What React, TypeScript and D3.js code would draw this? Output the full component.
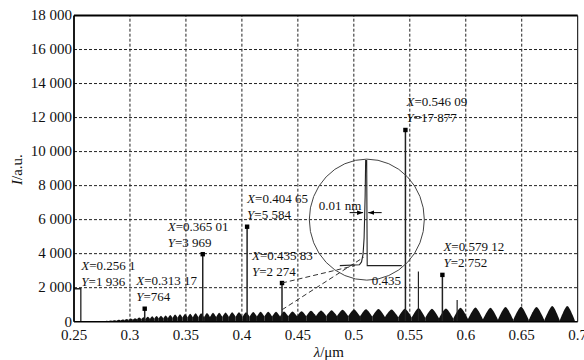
import { useRef, useEffect } from "react";
import * as d3 from "d3";

const xTicks = [0.25, 0.3, 0.35, 0.4, 0.45, 0.5, 0.55, 0.6, 0.65, 0.7];
const yTicks = [0, 2000, 4000, 6000, 8000, 10000, 12000, 14000, 16000, 18000];

// spectrum edge at the short-wavelength end
const edgeLambda = [0.25, 0.2561, 0.2561];
const edgeValue = [1936, 1936, 0];
const edgeLabelX = "0.256 1";
const edgeLabelY = "1 936";

// marked peaks (drawn height, label text)
const peakLambda = [0.31317, 0.36501, 0.40465, 0.43583, 0.54609, 0.57912];
const peakValue = [764, 3969, 5584, 2274, 11270, 2752];
const peakLabelX = ["0.313 17", "0.365 01", "0.404 65", "0.435 83", "0.546 09", "0.579 12"];
const peakLabelY = ["764", "3 969", "5 584", "2 274", "17 877", "2 752"];

// unlabelled lines
const lineLambda = [0.5577, 0.5923];
const lineValue = [2950, 1270];

// interference fringes on the continuum
const fringeCenter = [
  0.279, 0.2826, 0.2862, 0.2898, 0.2934, 0.2971, 0.3007, 0.3045, 0.3082, 0.3121,
  0.3159, 0.3198, 0.3237, 0.3277, 0.3318, 0.336, 0.3403, 0.3447, 0.3492, 0.3538,
  0.3586, 0.3636, 0.3688, 0.3742, 0.3797, 0.3854, 0.3913, 0.3974, 0.4037, 0.4101,
  0.4167, 0.4235, 0.4305, 0.4376, 0.4452, 0.4533, 0.4617, 0.4707, 0.4801, 0.4899,
  0.5002, 0.5109, 0.522, 0.5337, 0.5457, 0.5578, 0.5698, 0.5823, 0.5953, 0.6087,
  0.6221, 0.6355, 0.6494, 0.6632, 0.6773, 0.6907,
];
const fringeTop = [
  50, 70, 90, 110, 130, 160, 190, 210, 240, 260,
  290, 320, 330, 350, 370, 400, 420, 440, 450, 470,
  490, 500, 510, 520, 530, 540, 550, 560, 560, 570,
  580, 580, 590, 600, 600, 620, 640, 660, 680, 700,
  710, 730, 750, 720, 760, 800, 760, 780, 820, 840,
  820, 860, 880, 870, 930, 920,
];
const fringeLow = [
  10, 30, 50, 60, 80, 100, 110, 120, 140, 150,
  160, 170, 180, 190, 200, 210, 220, 230, 240, 250,
  250, 260, 260, 270, 270, 280, 280, 290, 290, 300,
  300, 300, 310, 310, 320, 320, 320, 330, 330, 330,
  320, 310, 300, 280, 260, 240, 220, 200, 180, 160,
  140, 120, 110, 100, 90, 80,
];

// magnified view of the 0.435 83 line (offset in nm, intensity)
const insetNm = [-0.05, -0.012, -0.008, -0.005, -0.003, -0.001, 0, 0.002, 0.003, 0.07];
const insetValue = [0, 20, 80, 250, 600, 1500, 2274, 2274, 0, 0];
const insetCenter = { lambda: 0.5116, value: 6000 };

const FONT = "'Liberation Serif', 'Times New Roman', serif";

export default function App() {
  const svgRef = useRef<SVGSVGElement>(null);

  useEffect(() => {
    if (!svgRef.current) return;
    const width = 584;
    const height = 360;
    const margin = { top: 15.5, right: 6.3, bottom: 38.3, left: 74 };

    const svg = d3.select(svgRef.current);
    svg.selectAll("*").remove();
    svg.attr("width", width).attr("height", height).attr("viewBox", `0 0 ${width} ${height}`);

    const x = d3.scaleLinear().domain([0.25, 0.7]).range([margin.left, width - margin.right]);
    const y = d3.scaleLinear().domain([0, 18000]).range([height - margin.bottom, margin.top]);
    const [x0, x1] = x.range();
    const [yb, yt] = y.range();

    svg.append("rect").attr("width", width).attr("height", height).attr("fill", "#fff");

    // grid
    const grid = svg.append("g").attr("stroke", "#222").attr("stroke-width", 1).attr("stroke-dasharray", "3,2");
    grid.selectAll("line.v")
      .data(xTicks.slice(1, -1))
      .join("line")
      .attr("class", "v")
      .attr("x1", (d) => x(d)).attr("x2", (d) => x(d))
      .attr("y1", yb).attr("y2", yt);
    grid.selectAll("line.h")
      .data(yTicks.slice(1, -1))
      .join("line")
      .attr("class", "h")
      .attr("x1", x0).attr("x2", x1)
      .attr("y1", (d) => y(d)).attr("y2", (d) => y(d));

    // fringes
    const n = fringeCenter.length;
    const area = d3
      .area<[number, number]>()
      .x((d) => x(d[0]))
      .y0(y(0))
      .y1((d) => y(d[1]))
      .curve(d3.curveCardinal.tension(0.2));
    const humps = fringeCenter.map((c, i) => {
      const prev = i > 0 ? fringeCenter[i - 1] : c - (fringeCenter[1] - c);
      const next = i < n - 1 ? fringeCenter[i + 1] : c + (c - fringeCenter[i - 1]);
      const lowR = i < n - 1 ? fringeLow[i + 1] : fringeLow[i];
      return [
        [(prev + c) / 2, fringeLow[i]],
        [c, fringeTop[i]],
        [(c + next) / 2, lowR],
      ] as [number, number][];
    });
    svg.append("g")
      .selectAll("path")
      .data(humps)
      .join("path")
      .attr("d", (d) => area(d))
      .attr("fill", "#111");

    // edge
    const edgeLine = d3
      .line<number>()
      .x((_, i) => x(edgeLambda[i]))
      .y((d) => y(d));
    svg.append("path")
      .attr("d", edgeLine(edgeValue))
      .attr("fill", "none")
      .attr("stroke", "#222")
      .attr("stroke-width", 1.3);

    // unlabelled lines
    svg.append("g")
      .selectAll("line")
      .data(lineLambda)
      .join("line")
      .attr("x1", (d) => x(d)).attr("x2", (d) => x(d))
      .attr("y1", y(0)).attr("y2", (_, i) => y(lineValue[i]))
      .attr("stroke", "#222")
      .attr("stroke-width", 1.2);

    // peaks
    const peaks = svg.append("g");
    peaks.selectAll("line")
      .data(peakLambda)
      .join("line")
      .attr("x1", (d) => x(d)).attr("x2", (d) => x(d))
      .attr("y1", y(0)).attr("y2", (_, i) => y(peakValue[i]))
      .attr("stroke", "#222")
      .attr("stroke-width", 1.5);
    peaks.selectAll("rect")
      .data(peakLambda)
      .join("rect")
      .attr("x", (d) => x(d) - 2.2)
      .attr("y", (_, i) => y(peakValue[i]) - 2.2)
      .attr("width", 4.4)
      .attr("height", 4.4)
      .attr("fill", "#000");

    // inset
    const cx = x(insetCenter.lambda);
    const cy = y(insetCenter.value);
    const ix = d3.scaleLinear().domain([-0.05, 0.07]).range([cx - 27, cx + 35]);
    const iy = d3.scaleLinear().domain([0, 2274]).range([cy + 46, cy - 59]);

    const labelAt = 0.43583;
    const dashed = svg.append("g").attr("stroke", "#333").attr("stroke-width", 1).attr("stroke-dasharray", "5,3");
    dashed.append("line")
      .attr("x1", x(labelAt)).attr("y1", y(2274))
      .attr("x2", ix(-0.021)).attr("y2", iy(0));
    dashed.append("line")
      .attr("x1", x(labelAt)).attr("y1", y(700))
      .attr("x2", ix(-0.004)).attr("y2", iy(180));

    svg.append("ellipse")
      .attr("cx", cx).attr("cy", cy).attr("rx", 57.5).attr("ry", 60.5)
      .attr("fill", "none")
      .attr("stroke", "#444")
      .attr("stroke-width", 1);

    const insetLine = d3
      .line<number>()
      .x((_, i) => ix(insetNm[i]))
      .y((d) => iy(d));
    svg.append("path")
      .attr("d", insetLine(insetValue))
      .attr("fill", "none")
      .attr("stroke", "#222")
      .attr("stroke-width", 1.1);

    const defs = svg.append("defs");
    defs.append("marker")
      .attr("id", "arrow")
      .attr("viewBox", "0 0 8 6")
      .attr("refX", 8).attr("refY", 3)
      .attr("markerWidth", 6).attr("markerHeight", 5)
      .attr("markerUnits", "userSpaceOnUse")
      .attr("orient", "auto")
      .append("path")
      .attr("d", "M0,0L8,3L0,6Z")
      .attr("fill", "#000");
    const ay = cy - 7;
    svg.append("line")
      .attr("x1", ix(-0.031)).attr("x2", ix(-0.005)).attr("y1", ay).attr("y2", ay)
      .attr("stroke", "#000").attr("marker-end", "url(#arrow)");
    svg.append("line")
      .attr("x1", ix(0.031)).attr("x2", ix(0.005)).attr("y1", ay).attr("y2", ay)
      .attr("stroke", "#000").attr("marker-end", "url(#arrow)");

    const ann = svg.append("g").attr("font-family", FONT).attr("font-size", 13).attr("fill", "#111");
    ann.append("text").attr("x", cx - 48).attr("y", cy - 9.5).text("0.01 nm");
    ann.append("text").attr("x", cx + 5).attr("y", cy + 65.5).text("0.435");

    const xyLabel = (px: number, py: number, letter: string, value: string) => {
      const t = ann.append("text").attr("x", px).attr("y", py);
      t.append("tspan").attr("font-style", "italic").text(letter);
      t.append("tspan").text("=" + value);
    };
    xyLabel(x(edgeLambda[1]) + 0.5, y(edgeValue[0]) - 19, "X", edgeLabelX);
    xyLabel(x(edgeLambda[1]) + 0.5, y(edgeValue[0]) - 3, "Y", edgeLabelY);
    const labelDx = [-8.5, -35, 0, -30, 1, 1];
    peakLambda.forEach((l, i) => {
      xyLabel(x(l) + labelDx[i], y(peakValue[i]) - 23.5, "X", peakLabelX[i]);
      xyLabel(x(l) + labelDx[i], y(peakValue[i]) - 7.5, "Y", peakLabelY[i]);
    });

    // frame
    const frame = svg.append("g").attr("stroke", "#000").attr("fill", "none");
    frame.append("line").attr("x1", x0).attr("x2", x1).attr("y1", yt).attr("y2", yt).attr("stroke-width", 2);
    frame.append("line").attr("x1", x0).attr("x2", x0).attr("y1", yt).attr("y2", yb).attr("stroke-width", 1.8);
    frame.append("line").attr("x1", x1).attr("x2", x1).attr("y1", yt).attr("y2", yb).attr("stroke-width", 1);
    frame.append("line").attr("x1", x0).attr("x2", x1).attr("y1", yb).attr("y2", yb).attr("stroke-width", 1.6);

    // tick labels
    const fmtY = d3.formatLocale({ decimal: ".", thousands: " ", grouping: [3], currency: ["", ""] }).format(",d");
    const ticks = svg.append("g").attr("font-family", FONT).attr("font-size", 15).attr("fill", "#111");
    ticks.selectAll("text.y")
      .data(yTicks)
      .join("text")
      .attr("class", "y")
      .attr("x", x0 - 2)
      .attr("y", (d) => y(d))
      .attr("dy", "0.32em")
      .attr("text-anchor", "end")
      .text((d) => fmtY(d));
    ticks.selectAll("text.x")
      .data(xTicks)
      .join("text")
      .attr("class", "x")
      .attr("x", (d) => x(d))
      .attr("y", yb + 18.6)
      .attr("text-anchor", "middle")
      .text((d) => d3.format("~g")(d));

    // axis titles
    const xt = ticks.append("text").attr("x", (x0 + x1) / 2 + 3).attr("y", 356.5).attr("text-anchor", "middle");
    xt.append("tspan").attr("font-style", "italic").text("λ");
    xt.append("tspan").text("/μm");
    const yt2 = ticks.append("text")
      .attr("transform", `translate(22,${(yt + yb) / 2 + 1}) rotate(-90)`)
      .attr("text-anchor", "middle");
    yt2.append("tspan").attr("font-style", "italic").text("I");
    yt2.append("tspan").text("/a.u.");
  }, []);

  return <svg ref={svgRef} style={{ position: "absolute", left: 0, top: 0, display: "block" }} />;
}
